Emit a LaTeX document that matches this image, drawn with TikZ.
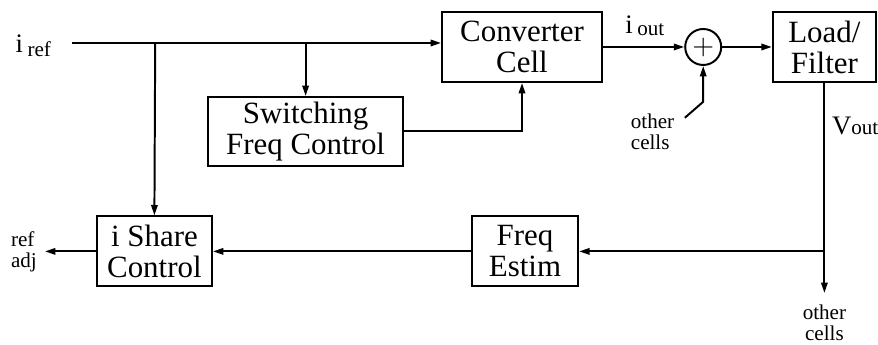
\documentclass[tikz,border=0pt]{standalone}
\usepackage{fontspec}
\setmainfont{Liberation Serif}
\usetikzlibrary {arrows.meta}
\usetikzlibrary {positioning}

\newcommand{\sigl}[3]{{\fontsize{9.5}{10}\selectfont #1\,\raisebox{#3}{\fontsize{7.5}{8}\selectfont #2}}}

\begin{document}
\begin{tikzpicture}[line width=0.7pt,>={Triangle[length=1.3mm,width=0.8mm]},
  blk/.style={draw,align=center,inner sep=0pt,minimum height=0.875cm,font=\fontsize{11}{11}\selectfont},
  sml/.style={align=left,inner sep=0pt,font=\fontsize{7.5}{7.5}\selectfont}]
  \useasboundingbox (0,0) rectangle (10.975,4.3125);

        \node[blk,minimum width=2.0cm] (conv) at (6.525,3.725) {Converter\\Cell};%変換セル
        \node[blk,minimum width=2.44cm,minimum height=0.86cm] (sw) at (3.82,2.67) {Switching\\Freq Control};
        \node[blk,minimum width=1.29cm] (load) at (10.305,3.725) {Load/\\Filter};
        \node[blk,minimum width=1.33cm] (fe) at (6.5625,1.17) {Freq\\Estim};
        \node[blk,minimum width=1.44cm] (ish) at (1.93,1.17) {i Share\\Control};
        \node[draw,circle,minimum size=0.45cm,inner sep=0pt,font=\fontsize{10}{10}\selectfont] (sum) at (8.79,3.725) {$+$};%加算点

        \coordinate (in) at (0.9,3.775);
        \node[anchor=east,inner sep=0pt] (iref) at (0.65,3.74) {\sigl{i}{ref}{-1.2pt}};
        \coordinate (j1) at (1.94,3.775);
        \coordinate (j2) at (sw.north |- in);
        \node[inner sep=0pt] (iout) at (8.06,3.99) {\sigl{i}{out}{-1pt}};
        \node[inner sep=0pt] (vout) at (10.69,2.74) {{\fontsize{9.5}{10}\selectfont V}{\fontsize{7.5}{8}\selectfont out}};

        \draw[->](in)--(conv.west |- in);%入力
        \draw[->](j2)--(sw.north);
        \draw[->](j1)--(ish.north);
        \draw[->](sw.east) -| (conv.south);
        \draw[->](conv.east)--(sum.west);
        \draw[->](sum.east)--(load.west);

        % 他のセルからの電流
        \coordinate (c1) at (8.56,2.84);
        \coordinate (k1) at (sum.south |- 0,3.04);
        \node[sml,anchor=north east] (oc1) at (8.44,2.9) {other\\cells};
        \draw[->](c1)--(k1)--(sum.south);

        % 出力電圧
        \coordinate (vend) at (load.south |- 0,0.65);
        \coordinate (j3) at (load.south |- fe.east);
        \node[sml,align=center,below=1.3mm of vend] (oc2) {other\\cells};
        \draw[->](load.south)--(vend);
        \draw[->](j3)--(fe.east);
        \draw[->](fe.west)--(ish.east);

        \coordinate (adj) at (0.5625,1.17);
        \node[sml,left=0.9mm of adj] (refadj) {ref\\adj};
        \draw[->](ish.west)--(adj);
      \end{tikzpicture}
\end{document}
